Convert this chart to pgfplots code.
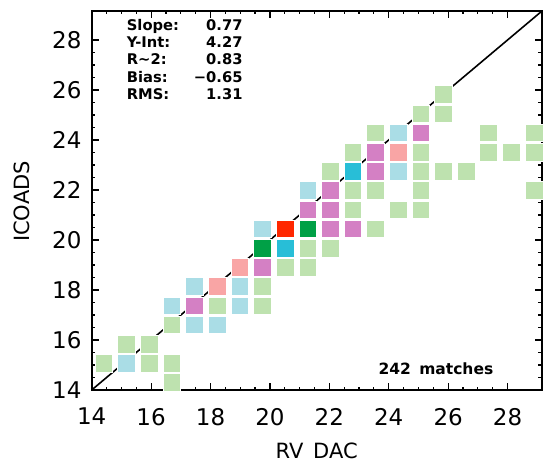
\documentclass[border=0pt]{standalone}
\usepackage{fontspec}
\setmainfont{DejaVu Sans}
\usepackage{pgfplots}
\pgfplotsset{compat=1.18}
\definecolor{lg}{HTML}{BEE2AF}
\definecolor{lb}{HTML}{AADDE6}
\definecolor{sa}{HTML}{F9A5A5}
\definecolor{orc}{HTML}{D480C4}
\definecolor{cy}{HTML}{28BED7}
\definecolor{dg}{HTML}{00A046}
\definecolor{rd}{HTML}{FF2800}
\pgfplotsset{sq/.style={only marks, mark=square*, mark size=8.8pt, color=#1, mark options={fill=#1, draw=white, line width=0.5pt}}}
\begin{document}
\begin{tikzpicture}[x=1pt,y=1pt]
\path[use as bounding box] (0,0) rectangle (544,464);
\begin{axis}[
  at={(91.7pt,74pt)}, anchor=south west,
  scale only axis, width=450pt, height=379pt,
  xmin=14, xmax=29.15, ymin=14, ymax=29.16,
  xtick={14,16,...,28}, ytick={14,16,...,28},
  minor x tick num=3, minor y tick num=3,
  tick align=inside,
  major tick length=7pt, minor tick length=3.5pt,
  axis line style={line width=1.6pt},
  every tick/.style={black, line width=1.2pt},
  /pgf/number format/assume math mode=true,
  ticklabel style={font=\fontsize{23}{26}\selectfont},
  xticklabel style={inner sep=0pt, anchor=north, yshift=-18pt},
  yticklabel style={inner sep=0pt, anchor=east, xshift=-10pt},
]
\addplot[black, line width=1.6pt] coordinates {(14,14) (29.3,29.3)};
\addplot[sq=lg] coordinates {
(16.70,14.30) (14.41,15.07) (15.93,15.07) (16.70,15.07)
(15.17,15.84) (15.93,15.84) (16.70,16.61)
(18.22,17.37) (19.74,17.37) (19.74,18.14)
(20.51,18.91) (21.27,18.91) (21.27,19.68) (22.03,19.68)
(23.55,20.45) (22.79,21.21) (24.32,21.21) (25.08,21.21)
(22.79,21.98) (23.55,21.98) (25.08,21.98) (28.89,21.98)
(22.03,22.75) (25.08,22.75) (25.84,22.75) (26.60,22.75)
(22.79,23.52) (25.08,23.52) (27.36,23.52) (28.13,23.52) (28.89,23.52)
(23.55,24.29) (27.36,24.29) (28.89,24.29)
(25.08,25.05) (25.84,25.05) (25.84,25.82)
};
\addplot[sq=lb] coordinates {
(15.17,15.07) (17.46,16.61) (18.22,16.61) (16.70,17.37) (18.98,17.37)
(17.46,18.14) (18.98,18.14) (19.74,20.45) (21.27,21.98) (24.32,22.75) (24.32,24.29)
};
\addplot[sq=sa] coordinates {
(18.22,18.14) (18.98,18.91) (24.32,23.52)
};
\addplot[sq=orc] coordinates {
(17.46,17.37) (19.74,18.91) (22.03,20.45) (22.79,20.45) (21.27,21.21) (22.03,21.21)
(22.03,21.98) (23.55,22.75) (23.55,23.52) (25.08,24.29)
};
\addplot[sq=cy] coordinates {
(20.51,19.68) (22.79,22.75)
};
\addplot[sq=dg] coordinates {
(19.74,19.68) (21.27,20.45)
};
\addplot[sq=rd] coordinates {
(20.51,20.45)
};
\end{axis}
\begin{scope}[every node/.style={inner sep=0pt, font=\fontsize{14.7}{17}\bfseries\selectfont}]
\node[anchor=base west] at (126.7,433) {Slope:};
\node[anchor=base west] at (126.7,416) {Y-Int:};
\node[anchor=base west] at (126.7,399) {R\textasciitilde 2:};
\node[anchor=base west] at (126.7,381.8) {Bias:};
\node[anchor=base west] at (126.7,364.7) {RMS:};
\node[anchor=base east] at (242.7,433) {0.77};
\node[anchor=base east] at (242.7,416) {4.27};
\node[anchor=base east] at (242.7,399) {0.83};
\node[anchor=base east] at (242.7,381.8) {−0.65};
\node[anchor=base east] at (242.7,364.7) {1.31};
\end{scope}
\node[anchor=base west, inner sep=0pt, font=\fontsize{15.5}{18}\bfseries\selectfont] at (378.3,89) {242\hspace{3pt} matches};
\node[anchor=base, inner sep=0pt, font=\fontsize{21}{24}\selectfont] at (316.7,5.5) {RV\hspace{3pt} DAC};
\node[anchor=base, rotate=90, inner sep=0pt, font=\fontsize{21}{24}\selectfont] at (29,262.5) {ICOADS};
\end{tikzpicture}
\end{document}
